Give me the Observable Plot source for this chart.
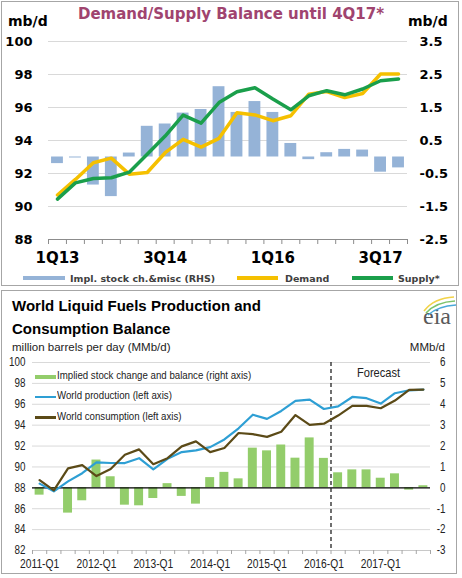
<!DOCTYPE html>
<html><head><meta charset="utf-8">
<script src="https://cdn.jsdelivr.net/npm/d3@7"></script>
<script src="https://cdn.jsdelivr.net/npm/@observablehq/plot@0.6"></script>
<style>
html,body{margin:0;padding:0;background:#fff;}
body{width:462px;height:578px;position:relative;overflow:hidden;}
.panel{position:absolute;border:1px solid #a6a6a6;box-sizing:border-box;}
.t{position:absolute;white-space:nowrap;}
.dj{font-family:'DejaVu Sans',sans-serif;font-weight:bold;}
.ar{font-family:'Liberation Sans',Arial,sans-serif;}
.nr{font-family:'Liberation Sans',Arial,sans-serif;transform:scaleX(0.82);transform-origin:0 0;}
.sw{position:absolute;}
#top,#bot{position:absolute;left:0;}
#top{top:0;}
#bot{top:350px;}
</style></head><body>
<div class="panel" style="left:1px;top:1px;width:458px;height:285px"></div>
<div class="panel" style="left:1px;top:290px;width:456px;height:284px"></div>
<div id="top"></div>
<div id="bot"></div>

<!-- top panel texts -->
<div class="t dj" style="left:0;width:462px;text-align:center;top:6.5px;font-size:15px;line-height:15px;color:#a0446f">Demand/Supply Balance until 4Q17*</div>
<div class="t dj" style="left:8px;top:14px;font-size:14px;line-height:14px;color:#000">mb/d</div>
<div class="t dj" style="left:408px;top:14px;font-size:14px;line-height:14px;color:#000">mb/d</div>
<div class="sw" style="left:23px;top:276px;width:42px;height:4px;background:#95b3d7"></div>
<div class="t dj" style="left:70px;top:274px;font-size:9.5px;line-height:9.5px;color:#404040">Impl. stock ch.&amp;misc (RHS)</div>
<div class="sw" style="left:237px;top:276px;width:41px;height:4px;background:#f5c000"></div>
<div class="t dj" style="left:285px;top:274px;font-size:9.5px;line-height:9.5px;color:#404040">Demand</div>
<div class="sw" style="left:352px;top:276px;width:41px;height:4px;background:#1a9f4b"></div>
<div class="t dj" style="left:398px;top:274px;font-size:9.5px;line-height:9.5px;color:#404040">Supply*</div>

<!-- bottom panel texts -->
<div class="t ar" style="left:12px;top:298px;font-size:15px;line-height:15px;font-weight:bold;color:#000">World Liquid Fuels Production and</div>
<div class="t ar" style="left:12px;top:320.6px;font-size:15px;line-height:15px;font-weight:bold;color:#000">Consumption Balance</div>
<div class="t ar" style="left:12px;top:342px;font-size:11.5px;line-height:11.5px;color:#222">million barrels per day (MMb/d)</div>
<div class="t ar" style="right:17px;top:342px;font-size:11.5px;line-height:11.5px;color:#222">MMb/d</div>
<div class="t" style="left:423px;top:304px;font-family:'Liberation Serif','DejaVu Serif',serif;font-size:24px;line-height:24px;color:#5a5a5a">eia</div>
<svg style="position:absolute;left:420px;top:294px" width="38" height="22">
  <path d="M4,17 Q14,4 34,3" fill="none" stroke="#f2d34a" stroke-width="1.6"/>
  <path d="M6,19 Q16,8 35,7" fill="none" stroke="#7cc36b" stroke-width="1.6"/>
  <path d="M8,21 Q18,12 36,11" fill="none" stroke="#4aa8d8" stroke-width="1.6"/>
</svg>
<div class="sw" style="left:35px;top:375px;width:21px;height:4px;background:#93cd6b"></div>
<div class="t nr" style="left:57px;top:370.3px;font-size:11.8px;line-height:11.8px;color:#222">Implied stock change and balance (right axis)</div>
<div class="sw" style="left:35px;top:395.5px;width:21px;height:2.5px;background:#2e9fd4"></div>
<div class="t nr" style="left:57px;top:390.3px;font-size:11.8px;line-height:11.8px;color:#222">World production (left axis)</div>
<div class="sw" style="left:35px;top:416px;width:21px;height:2.5px;background:#5b4a17"></div>
<div class="t nr" style="left:57px;top:411px;font-size:11.8px;line-height:11.8px;color:#222">World consumption (left axis)</div>
<div class="t nr" style="left:357px;top:365.5px;font-size:13.5px;line-height:13.5px;color:#222">Forecast</div>

<script>
// ---------- Top chart data ----------
const quartersTop = ["1Q13","2Q13","3Q13","4Q13","1Q14","2Q14","3Q14","4Q14","1Q15","2Q15","3Q15","4Q15","1Q16","2Q16","3Q16","4Q16","1Q17","2Q17","3Q17","4Q17"];
const stockTop = [-0.2, -0.03, -0.85, -1.2, 0.12, 0.93, 1.0, 1.33, 1.44, 2.13, 1.35, 1.68, 1.35, 0.41, -0.08, 0.13, 0.23, 0.21, -0.46, -0.33];
const demandTop = [90.7, 91.64, 92.65, 92.93, 91.96, 92.06, 93.26, 94.07, 93.6, 94.13, 95.68, 95.55, 95.2, 95.5, 96.81, 96.97, 96.6, 96.85, 98.03, 98.03];
const supplyTop = [90.45, 91.43, 91.7, 91.74, 92.08, 93.16, 94.27, 95.54, 95.05, 96.3, 96.95, 97.2, 96.51, 95.86, 96.71, 97.02, 96.77, 97.12, 97.62, 97.73];
const topLeftTicks = [88, 90, 92, 94, 96, 98, 100];
const topLabelQuarters = ["1Q13", "3Q14", "1Q16", "3Q17"];

// ---------- Bottom chart data ----------
const quartersBot = ["2011-Q1","2011-Q2","2011-Q3","2011-Q4","2012-Q1","2012-Q2","2012-Q3","2012-Q4","2013-Q1","2013-Q2","2013-Q3","2013-Q4","2014-Q1","2014-Q2","2014-Q3","2014-Q4","2015-Q1","2015-Q2","2015-Q3","2015-Q4","2016-Q1","2016-Q2","2016-Q3","2016-Q4","2017-Q1","2017-Q2","2017-Q3","2017-Q4"];
const stockBot = [-0.35, -0.05, -1.21, -0.62, 1.33, 0.53, -0.83, -0.86, -0.51, 0.2, -0.41, -0.78, 0.49, 0.74, 0.43, 1.9, 1.77, 2.05, 1.42, 2.39, 1.41, 0.72, 0.86, 0.86, 0.46, 0.67, -0.11, 0.1];
const productionBot = [88.4, 87.66, 88.62, 89.4, 90.44, 90.38, 90.37, 90.84, 89.77, 90.78, 91.42, 91.58, 91.9, 92.63, 93.7, 95.0, 94.6, 95.36, 96.32, 96.45, 95.55, 95.8, 96.7, 96.58, 96.07, 97.06, 97.34, 97.41];
const consumptionBot = [88.74, 87.75, 89.87, 90.17, 89.13, 89.8, 91.17, 91.68, 90.26, 90.84, 91.97, 92.45, 91.42, 91.82, 93.25, 93.14, 92.88, 93.37, 94.97, 94.02, 94.14, 94.92, 95.84, 95.84, 95.62, 96.36, 97.38, 97.41];
const botLeftTicks = [82, 84, 86, 88, 90, 92, 94, 96, 98, 100];
const botLabelQuarters = ["2011-Q1","2012-Q1","2013-Q1","2014-Q1","2015-Q1","2016-Q1","2017-Q1"];
const forecastStart = "2016-Q2";

// right-axis conversions (left value = base + factor * right value)
const topBase = 93, topFactor = 2;
const botBase = 88, botFactor = 2;

const topRows = quartersTop.map((q, i) => ({q, i, stock: stockTop[i], demand: demandTop[i], supply: supplyTop[i]}));
const botRows = quartersBot.map((q, i) => ({q, i, stock: stockBot[i], prod: productionBot[i], cons: consumptionBot[i]}));

const topPlot = Plot.plot({
  width: 462, height: 270,
  marginTop: 41, marginBottom: 31, marginLeft: 48, marginRight: 55,
  x: {domain: [0, quartersTop.length], axis: null},
  y: {domain: [88, 100], axis: null},
  style: {fontFamily: "'DejaVu Sans', sans-serif", fontWeight: "bold", fontSize: "13px", color: "#000", background: "transparent", overflow: "visible"},
  marks: [
    Plot.gridY(topLeftTicks.filter(d => d > 88), {stroke: "#d9d9d9", strokeOpacity: 1}),
    Plot.rectY(topRows, {x1: d => d.i + 0.17, x2: d => d.i + 0.83, y1: topBase, y2: d => topBase + topFactor * d.stock, fill: "#95b3d7"}),
    Plot.ruleY([88], {stroke: "#8c8c8c"}),
    Plot.axisX({ticks: d3.range(0, quartersTop.length + 1), tickSize: 5, tickFormat: () => "", stroke: "#8c8c8c"}),
    Plot.axisX({ticks: topLabelQuarters.map(q => quartersTop.indexOf(q) + 0.5), tickSize: 0, tickPadding: 13, fontSize: 15, tickFormat: d => quartersTop[Math.floor(d)]}),
    Plot.axisY({ticks: topLeftTicks, anchor: "left", tickSize: 0, tickPadding: 16, tickFormat: d => String(d)}),
    Plot.axisY({ticks: topLeftTicks, anchor: "right", tickSize: 0, tickPadding: 12, tickFormat: d => String((d - topBase) / topFactor)}),
    Plot.line(topRows, {x: d => d.i + 0.5, y: "demand", stroke: "#f5c000", strokeWidth: 3.5}),
    Plot.line(topRows, {x: d => d.i + 0.5, y: "supply", stroke: "#1a9f4b", strokeWidth: 3.5})
  ]
});
document.getElementById("top").append(topPlot);

const fIdx = quartersBot.indexOf(forecastStart);
const botPlot = Plot.plot({
  width: 462, height: 226,
  marginTop: 12, marginBottom: 26, marginLeft: 32, marginRight: 32,
  x: {domain: [0, quartersBot.length], axis: null},
  y: {domain: [82, 100], axis: null},
  style: {fontFamily: "'Liberation Sans',Arial,sans-serif", fontSize: "12.5px", color: "#222", background: "transparent", overflow: "visible"},
  marks: [
    Plot.gridY(botLeftTicks.filter(d => d !== 88 && d !== 82), {stroke: "#d9d9d9", strokeOpacity: 1}),
    Plot.ruleY([82], {stroke: "#c8c8c8"}),
    Plot.rectY(botRows, {x1: d => d.i + 0.185, x2: d => d.i + 0.815, y1: botBase, y2: d => botBase + botFactor * d.stock, fill: "#93cd6b"}),
    Plot.ruleY([88], {stroke: "#000", strokeWidth: 1.3}),
    Plot.ruleX([fIdx], {y1: 100, y2: 82, stroke: "#222", strokeWidth: 1.3, strokeDasharray: "4,3"}),
    Plot.axisX({ticks: d3.range(0, quartersBot.length + 1), tickSize: 4, tickFormat: () => "", stroke: "#a6a6a6"}),
    Plot.axisX({ticks: botLabelQuarters.map(q => quartersBot.indexOf(q) + 0.5), tickSize: 0, tickPadding: 8.5, fontSize: 12.5, tickFormat: d => quartersBot[Math.floor(d)]}),
    Plot.axisY({ticks: botLeftTicks, anchor: "left", tickSize: 0, tickPadding: 7, fontSize: 12, tickFormat: d => String(d)}),
    Plot.axisY({ticks: botLeftTicks, anchor: "right", tickSize: 0, tickPadding: 15, fontSize: 12, textAnchor: "end", tickFormat: d => String((d - botBase) / botFactor)}),
    Plot.line(botRows, {x: d => d.i + 0.5, y: "prod", stroke: "#2e9fd4", strokeWidth: 2.2}),
    Plot.line(botRows, {x: d => d.i + 0.5, y: "cons", stroke: "#5b4a17", strokeWidth: 2.2})
  ]
});
document.getElementById("bot").append(botPlot);
// condensed look of the bottom chart's tick labels (keeps them as real text)
d3.select(botPlot).selectAll("text").each(function () {
  const len = this.getComputedTextLength();
  if (len > 0) {
    this.setAttribute("textLength", (len * 0.82).toFixed(2));
    this.setAttribute("lengthAdjust", "spacingAndGlyphs");
  }
});
</script>
</body></html>
